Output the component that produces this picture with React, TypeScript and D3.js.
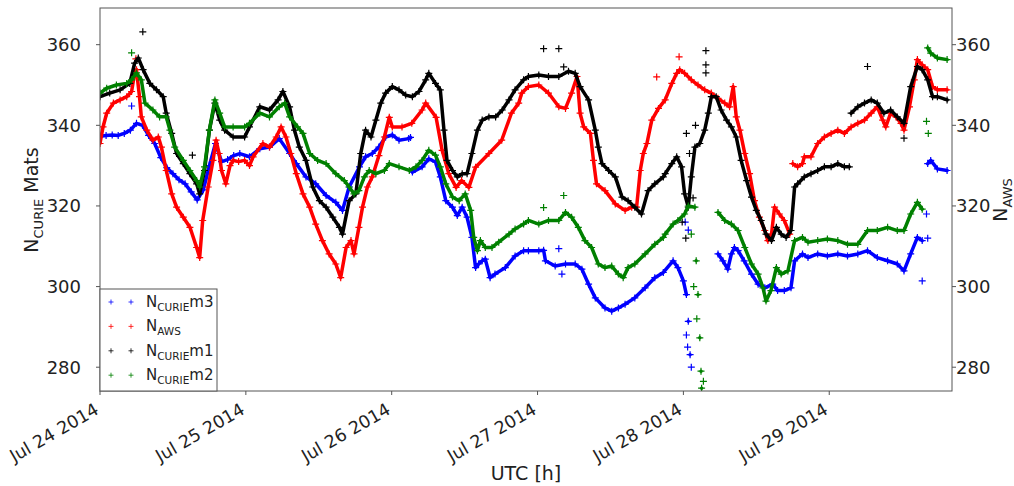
import React from 'react';
import * as d3 from 'd3';

// ---------- data (hours since Jul 24 2014 00:00 UTC, value) ----------
const startMs = Date.UTC(2014, 6, 24);
const spanHours = 140.2;

const dayTicks = ['2014-07-24', '2014-07-25', '2014-07-26', '2014-07-27', '2014-07-28', '2014-07-29'];
const yTicks = [280, 300, 320, 340, 360];

// N_CURIE m3 (blue)
const m3: [number, number][] = [
  [0, 337.3], [1, 337.5], [2, 337.6], [3, 337.5], [4, 338], [5, 338.8], [6, 340.5], [7, 340], [8, 337.5],
  [9, 335.5], [10, 332], [11, 329.5], [12, 328], [13, 326.5], [14, 325.5], [15, 323.5], [16, 321.5], [17, 324],
  [18, 330], [19, 335.5], [20, 331], [21, 331.5], [22, 332.5], [23, 333], [24.6, 332.2], [26.3, 334.2],
  [27.9, 334.6], [29.5, 336.7], [31.2, 333], [32.3, 330.5], [33.9, 327.2], [35.5, 325.5], [37.2, 322.6],
  [38.8, 320.9], [39.9, 318.9], [41, 324.7], [42.7, 329.7], [43.7, 332.2], [44.8, 333], [45.9, 334.6],
  [47, 337.1], [48.1, 337.6], [49.2, 336.3], [50.8, 336.7], [51.1, 337], [51.4, 328.4], [53, 329.7],
  [54.1, 331.7], [55.2, 330.9], [56, 327.2], [56.9, 321.3], [58, 319.7], [58.8, 317.6], [59.6, 319.7],
  [60.4, 317.2], [61.2, 312.2], [61.8, 304.7], [62.3, 305.6], [62.9, 306.4], [63.4, 306.8], [64.2, 302.2],
  [65, 303.1], [66.7, 304.7], [68.3, 307.6], [69.7, 308.9], [70.5, 308.9], [72.2, 308.9], [73, 309],
  [73.3, 306.4], [74.9, 305.1], [76.6, 305.6], [78.2, 305.6], [79.3, 304.3], [80.4, 300.6], [81.5, 297.2],
  [83.1, 294.7], [84.2, 293.9], [85.3, 294.7], [86.4, 295.6], [88, 297.2], [89.7, 299.7], [91.3, 302.2],
  [92.7, 303.5], [94.3, 306.4], [95.1, 304.7], [96, 301.4], [96.5, 298], [96.8, 291.4], [97.1, 283.1],
  [101.7, 308.1], [102.5, 306.4], [103.3, 304.3], [103.9, 308.1], [104.4, 309.7], [105, 308.9], [106, 306.4],
  [107.2, 303.1], [108.3, 300.6], [109.4, 299.7], [110.7, 300.6], [111.5, 299], [112.6, 299], [113.7, 299.7],
  [114.3, 306.4], [115.6, 308.1], [116.5, 307.2], [118.1, 308.1], [119.7, 307.6], [121.4, 308.1], [123, 307.6],
  [124.7, 308.1], [126.3, 308.9], [127.9, 307.2], [129.6, 306.4], [131.2, 305.6], [132.3, 303.9],
  [133.4, 308.1], [134.5, 312.2], [135.3, 311.4], [136.2, 330.5], [136.7, 331.3], [137.8, 329.2], [139.4, 328.8],
];
const m3Outliers: [number, number][] = [
  [5.2, 344.8], [75.5, 309.4], [76, 303.1], [135.3, 301.4], [96.3, 316], [96.8, 314], [96.5, 288],
  [96.7, 285], [97.3, 280], [136, 318], [136.2, 312],
];

// N_AWS (red)
const aws: [number, number][] = [
  [0, 335.5], [0.5, 339.6], [1.1, 343], [2.2, 345.5], [3.3, 346.3], [4.4, 347.1], [5.2, 348.4], [5.7, 352.9],
  [6, 353.8], [6.5, 347.1], [6.8, 342.1], [7.7, 338.8], [8.7, 336.3], [9.6, 337.1], [10.1, 334.6], [10.9, 328.8],
  [11.8, 323], [12.6, 319.7], [13.7, 317.2], [14.8, 314.7], [15.9, 309.7], [16.4, 307.2], [16.9, 316.4],
  [17.8, 324.7], [18.6, 331.3], [19.1, 336.3], [19.6, 333], [20, 328.8], [20.7, 325.5], [21.4, 330],
  [21.9, 331.3], [22.8, 331], [23.8, 331.3], [24.6, 330], [25.2, 332.2], [26.8, 335.5], [27.9, 334.6],
  [29, 337.1], [29.8, 339.6], [30.6, 337.1], [31.4, 333], [32.3, 328], [33.4, 323], [34.5, 319.7],
  [35.5, 315.5], [36.6, 311.4], [37.7, 308.1], [38.8, 305.6], [39.6, 302.2], [40.5, 309.7], [41.3, 311.4],
  [41.8, 308.1], [42.6, 314.7], [43.2, 319.7], [44, 324.7], [44.8, 327.2], [45.9, 332.5], [46.8, 337.1],
  [47.6, 342], [48.1, 339.6], [49.7, 339.6], [51.3, 340.5], [53, 343.8], [53.6, 345.5], [55.3, 342],
  [56.3, 333.8], [57.4, 328], [58.6, 324.6], [59.5, 326.3], [60.7, 324.6], [61.8, 329.6], [64, 333],
  [66.1, 336.3], [67.7, 343], [68.9, 345.5], [69.4, 348], [70.5, 349.6], [72.2, 350], [73.8, 348],
  [75.5, 344.6], [76.6, 344.2], [77.6, 348], [78.5, 352.1], [79, 343], [79.6, 339.6], [80.7, 338],
  [81.2, 331.3], [81.7, 325.5], [83.1, 323.8], [84.8, 320.5], [86.4, 318.9], [87.5, 319.7], [88.3, 319.7],
  [88.9, 328.8], [89.4, 333], [90, 335.5], [90.8, 341.3], [91.9, 344.2], [93, 346.3], [94.1, 350.4],
  [94.9, 352.9], [95.4, 353.8], [96.2, 352.9], [97.3, 351.3], [98.4, 350], [99.5, 348.8], [100.6, 348],
  [101.7, 346.7], [102.8, 345.5], [103.6, 344.6], [104.2, 349.6], [104.7, 342.1], [105.3, 338.8],
  [106.1, 333], [106.9, 328], [107.7, 321.3], [108.5, 317.2], [109.4, 313.9], [109.9, 311.4], [110.5, 313],
  [111, 319.7], [111.8, 318], [112.6, 316.4], [113.5, 313], [114, 330.5], [114.8, 329.7], [115.6, 330.5],
  [115.9, 332.2], [117, 332.2], [118.1, 335.5], [119.2, 337.1], [120.3, 338], [121.4, 338.8], [122.5, 338],
  [123.6, 339.6], [124.7, 340.5], [125.8, 341.3], [126.9, 343], [127.9, 344.6], [128.8, 341.3],
  [129.3, 339.6], [130.1, 343], [131, 342.1], [131.8, 340.5], [132.3, 338.8], [133.2, 344.6], [134, 351.3],
  [134.5, 356.3], [135.3, 355], [136.2, 353.8], [137, 349.6], [137.8, 348.8], [139.4, 348.8],
];
const awsOutliers: [number, number][] = [[5.9, 356.5], [91.6, 352], [95.3, 357]];

// N_CURIE m1 (black)
const m1: [number, number][] = [
  [0, 347.1], [1.6, 348], [3.3, 348.8], [4.9, 350.4], [5.7, 355.4], [6.3, 356.7], [7.1, 353.8], [8.2, 350.4],
  [9.3, 348.8], [10.4, 347.1], [10.9, 343], [11.8, 338], [12.6, 333], [13.7, 330.5], [14.8, 328], [15.9, 325.5],
  [16.4, 323], [17.2, 328.8], [18, 338.8], [18.9, 345.5], [19.7, 341.3], [20.5, 338.8], [21.9, 337.1],
  [23.8, 337.1], [24.6, 339.6], [26.3, 344.6], [27.9, 343.8], [29.3, 346.3], [30.1, 348.4], [31.2, 344.6],
  [32, 338.8], [32.8, 334.6], [33.9, 331.3], [35, 324.7], [36.1, 321.3], [37.2, 319.7], [38.3, 317.2],
  [39.4, 314.7], [39.9, 313], [41, 321.3], [42.1, 323], [42.9, 333], [43.7, 338.8], [44.6, 337.1],
  [45.4, 341.3], [46.2, 345.5], [47, 348], [48.1, 349.6], [49.2, 348.8], [50.3, 347.5], [51.4, 347.1],
  [52.5, 348.4], [53.6, 351.3], [54.1, 352.9], [55.2, 350.4], [56, 348.8], [56.6, 338.8], [57.1, 331.3],
  [58, 328.8], [58.8, 327.2], [59.6, 328], [60.4, 328], [61.2, 333], [62.1, 338.8], [62.9, 341.3], [64, 342.1],
  [65.1, 342.1], [66.2, 343.8], [67.3, 346.3], [68.3, 348.8], [69.7, 351.3], [70.5, 352.1], [72.2, 352.5],
  [73.8, 352.1], [75.5, 352.1], [77.1, 353.4], [78.2, 352.9], [79, 349.6], [80.4, 346.3], [81.5, 338.8],
  [82, 334.6], [82.6, 330.5], [83.7, 328.8], [84.8, 327.2], [85.9, 322.2], [86.9, 321.3], [88, 319.7],
  [89.1, 318], [90.2, 323.8], [91.3, 325.5], [92.7, 327.2], [93, 328], [94.1, 330.5], [94.9, 332.2],
  [95.7, 329.7], [96.2, 323], [96.8, 319.7], [97.3, 327.2], [97.9, 334.6], [98.7, 335.5], [99.5, 338.8],
  [100.1, 343], [100.6, 347.1], [101.4, 347.1], [102.2, 343.8], [103.1, 341.3], [103.9, 339.6], [104.7, 337.1],
  [105.5, 331.3], [106.4, 326.3], [107.2, 322.2], [108, 318.9], [108.8, 316.4], [109.6, 313], [110.5, 311.4],
  [111.3, 314.7], [112.1, 313], [112.9, 312.2], [113.7, 313.9], [114.3, 324.7], [114.8, 325.5], [115.9, 327.2],
  [117, 328], [118.1, 328.8], [119.2, 329.7], [120.3, 329.7], [121.4, 330.5], [122.5, 329.7], [123.3, 329.7],
  [123.6, 343], [124.7, 344.6], [125.8, 345.5], [126.9, 346.3], [127.9, 345.5], [129, 343], [130.1, 343.8],
  [131.2, 342.1], [132.3, 340.5], [133.4, 349.6], [134.5, 354.6], [135.3, 353.8], [136.2, 351.3], [137, 347.1],
  [137.8, 347.1], [139.4, 346.3],
];
const m1Outliers: [number, number][] = [
  [7.05, 363.2], [15.2, 332.6], [73, 359], [75.5, 359], [76.3, 354.5], [99.7, 358.5], [99.7, 355], [99.7, 353],
  [126.3, 354.6], [132.3, 336.8], [96.5, 338], [97, 333], [98, 340], [95.8, 316], [96.4, 312], [97.6, 322],
];

// N_CURIE m2 (green)
const m2: [number, number][] = [
  [0, 348], [1.1, 349.2], [2.7, 350], [4.4, 350.4], [5.2, 351.3], [6, 353], [6.8, 351.3], [7.4, 345.5],
  [8.7, 343.8], [9.8, 342.1], [10.9, 342.1], [11.5, 338.8], [12.3, 334.6], [13.7, 331.3], [14.8, 328.8],
  [15.9, 326.3], [16.4, 324.7], [17.2, 329.7], [18, 338.8], [18.9, 346.3], [19.7, 343], [20.5, 339.6],
  [21.9, 339.6], [23.8, 339.6], [24.6, 340.5], [26.3, 343], [27.9, 342.1], [29.5, 344.6], [30.4, 345.5],
  [31.2, 342.1], [32.5, 339.6], [33.4, 338], [34.5, 333], [35.8, 331.3], [37.2, 330.5], [38.8, 328],
  [40.2, 326.3], [41, 324.7], [41.8, 323], [42.6, 323.8], [43.5, 327.2], [44.3, 328.8], [45.4, 328],
  [46.8, 328.8], [47.6, 330.5], [49.2, 329.7], [50.9, 328.8], [52, 329.7], [53, 331.3], [54.1, 333.8],
  [55.2, 332.6], [56, 329.7], [56.9, 325.5], [58, 322.2], [59.1, 321.3], [60.1, 323], [61, 318.9],
  [61.5, 312.2], [62.1, 308.9], [62.6, 311.4], [63.4, 309.7], [64.5, 309.7], [65.6, 311], [67.3, 313],
  [68.3, 314.3], [69.7, 315.5], [70.5, 316.4], [72.2, 315.5], [73.8, 316.4], [75.5, 316.4], [76.6, 318.4],
  [77.6, 317.2], [78.7, 314.7], [79.8, 311.4], [80.9, 309.7], [82, 305.6], [83.1, 304.7], [84.2, 305.1],
  [85.3, 303.1], [86.1, 302.2], [86.9, 304.7], [88, 305.6], [89.7, 308.1], [91.3, 310.5], [92.7, 312.2],
  [93, 313], [94.3, 315.5], [95.1, 316.4], [96.2, 318], [96.8, 320], [97.9, 319.7], [98.1, 306.4],
  [98.4, 298], [98.7, 287.3], [98.9, 279], [99, 274.8], [101.7, 318.4], [102.8, 316.4], [103.9, 315.5],
  [105, 313.9], [106.1, 309.7], [107.2, 305.6], [108.3, 303.1], [109.1, 299.7], [109.6, 296.4], [110.4, 299],
  [111.3, 304.7], [112.1, 303.1], [113.2, 303.9], [114.3, 311.4], [115.6, 312.2], [116.5, 311], [118.1, 311.4],
  [119.7, 311.8], [121.4, 311.4], [123, 310.5], [124.7, 310.5], [126.3, 313.9], [127.9, 313.9], [129.6, 314.7],
  [131.2, 313.9], [132.3, 313.9], [133.4, 318], [134.5, 320.9], [135.3, 319.2], [136.2, 359.2], [136.7, 357.9],
  [137.8, 356.7], [139.4, 356.3],
];
const m2Outliers: [number, number][] = [
  [5.2, 358], [73, 319.6], [76.3, 322.6], [136, 341], [136.3, 338], [97.3, 313], [97.7, 300], [98.2, 292],
  [99.3, 276.5],
];

const seriesColors = ['#0000ff', '#ff0000', '#000000', '#008000'];

// ---------- layout ----------
const W = 1014;
const H = 486;
const L = 100;
const R = 952;
const T = 8;
const B = 391;
const frame = '#555555';
const font = 'DejaVu Sans, sans-serif';

const x = d3
  .scaleUtc()
  .domain([new Date(startMs), new Date(startMs + spanHours * 3600e3)])
  .range([L, R]);
const y = d3.scaleLinear().domain([274.1, 369.1]).range([B, T]);
const fmt = d3.utcFormat('%b %d %Y');
const toDate = (h: number) => new Date(startMs + h * 3600e3);

function plusPath(pts: [number, number][], s: number) {
  return pts
    .map(([h, v]) => {
      const px = x(toDate(h));
      const py = y(v);
      return `M${(px - s).toFixed(1)},${py.toFixed(1)}h${2 * s}M${px.toFixed(1)},${(py - s).toFixed(1)}v${2 * s}`;
    })
    .join('');
}

// dense band of the record: connect consecutive readings unless the record jumps or has a gap
const bandLine = d3
  .line<any>()
  .defined((d) => d[1] != null)
  .x((d) => x(toDate(d[0])))
  .y((d) => y(d[1]));

function bandPath(pts: [number, number][]) {
  const withBreaks: any[] = [];
  pts.forEach((p, i) => {
    if (i > 0) {
      const q = pts[i - 1];
      const dh = p[0] - q[0];
      const slope = Math.abs(p[1] - q[1]) / dh;
      if (dh > 2.5 || slope > 20) withBreaks.push([q[0], null]);
    }
    withBreaks.push(p);
  });
  return bandLine(withBreaks) || '';
}

const seriesList = [
  { pts: m3, extra: m3Outliers, color: seriesColors[0] },
  { pts: aws, extra: awsOutliers, color: seriesColors[1] },
  { pts: m1, extra: m1Outliers, color: seriesColors[2] },
  { pts: m2, extra: m2Outliers, color: seriesColors[3] },
];

const legendRows = [
  { main: 'N', sub: 'CURIE', tail: 'm3', color: seriesColors[0] },
  { main: 'N', sub: 'AWS', tail: '', color: seriesColors[1] },
  { main: 'N', sub: 'CURIE', tail: 'm1', color: seriesColors[2] },
  { main: 'N', sub: 'CURIE', tail: 'm2', color: seriesColors[3] },
];

export default function App() {
  return (
    <svg
      width={W}
      height={H}
      style={{ position: 'absolute', left: 0, top: 0, background: '#fff', fontFamily: font }}
    >
      <defs>
        <clipPath id="plotclip">
          <rect x={L} y={T} width={R - L} height={B - T} />
        </clipPath>
      </defs>
      <rect x={0} y={0} width={W} height={H} fill="#fff" />
      <g clipPath="url(#plotclip)">
        {seriesList.map((s, i) => (
          <g key={i}>
            <path
              d={bandPath(s.pts)}
              stroke={s.color}
              strokeWidth={3.5}
              fill="none"
              strokeLinejoin="round"
              strokeLinecap="round"
            />
            <path d={plusPath([...s.pts, ...s.extra], 3.5)} stroke={s.color} strokeWidth={1.2} fill="none" />
          </g>
        ))}
      </g>
      {/* frame */}
      <rect x={L} y={T} width={R - L} height={B - T} fill="none" stroke={frame} strokeWidth={1} />
      {/* y ticks left & right */}
      {yTicks.map((t) => (
        <g key={t}>
          <line x1={L - 4} x2={L} y1={y(t)} y2={y(t)} stroke={frame} />
          <line x1={R} x2={R + 4} y1={y(t)} y2={y(t)} stroke={frame} />
          <text x={81} y={y(t)} dy="0.36em" textAnchor="end" fontSize={18} fill="#222">
            {t}
          </text>
          <text x={956} y={y(t)} dy="0.36em" textAnchor="start" fontSize={18} fill="#222">
            {t}
          </text>
        </g>
      ))}
      {/* x ticks */}
      {dayTicks.map((d) => {
        const dt = new Date(d + 'T00:00:00Z');
        const px = x(dt);
        return (
          <g key={d}>
            <line x1={px} x2={px} y1={B} y2={B + 4} stroke={frame} />
            <text
              transform={`translate(${px},${B + 22}) rotate(-30)`}
              textAnchor="end"
              fontSize={17.5}
              fill="#222"
            >
              {fmt(dt)}
            </text>
          </g>
        );
      })}
      {/* axis labels */}
      <text x={(L + R) / 2} y={480} textAnchor="middle" fontSize={19} fill="#222">
        UTC [h]
      </text>
      <text transform={`translate(38,200) rotate(-90)`} textAnchor="middle" fontSize={19} fill="#222">
        N<tspan fontSize={13} dy={5}>CURIE</tspan>
        <tspan dy={-5}> Mats</tspan>
      </text>
      <text transform={`translate(1007,200) rotate(-90)`} textAnchor="middle" fontSize={19} fill="#222">
        N<tspan fontSize={13} dy={5}>AWS</tspan>
      </text>
      {/* legend */}
      <g>
        <rect x={L} y={289} width={117} height={B - 289} fill="#fff" stroke={frame} strokeWidth={1} />
        {legendRows.map((r, i) => {
          const cy = 302 + i * 24.4;
          return (
            <g key={i}>
              {[111, 131].map((mx) => (
                <path
                  key={mx}
                  d={`M${mx - 2.5},${cy}h5M${mx},${cy - 2.5}v5`}
                  stroke={r.color}
                  strokeWidth={0.8}
                />
              ))}
              <text x={146} y={cy + 5} fontSize={15} fill="#222">
                {r.main}
                <tspan fontSize={10.5} dy={4}>
                  {r.sub}
                </tspan>
                {r.tail ? <tspan dy={-4}>{r.tail}</tspan> : null}
              </text>
            </g>
          );
        })}
      </g>
    </svg>
  );
}
